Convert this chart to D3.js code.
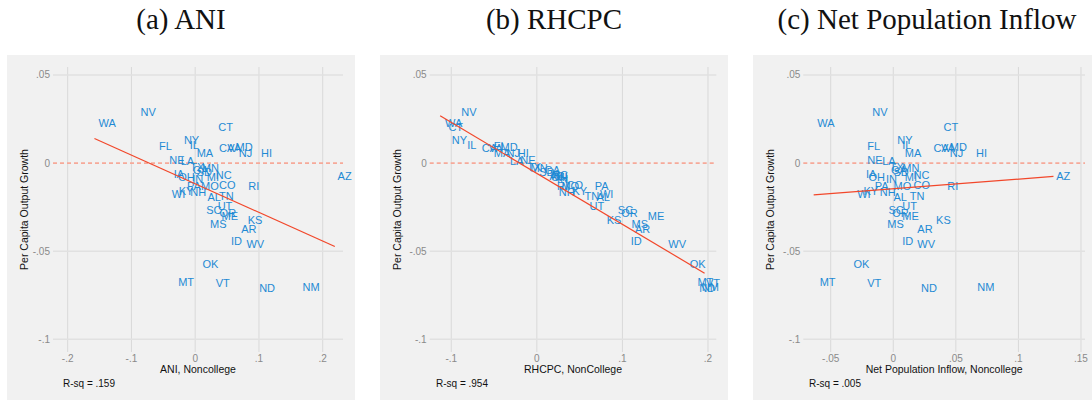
<!DOCTYPE html>
<html>
<head>
<meta charset="utf-8">
<script src="https://cdn.jsdelivr.net/npm/d3@7"></script>
<style>
  body { margin: 0; background: #fff; }
  text { font-family: "Liberation Sans", Arial, sans-serif; }
  .title { font-family: "Liberation Serif", "Times New Roman", serif; }
</style>
</head>
<body>
<div id="chart"></div>
<script>
// state codes and per capita output growth (same y in every panel)
var states = ["WA","NV","CT","NY","IL","FL","CA","VA","MD","NJ","HI","MA","NE","LA","TX","MN","GA","SD",
  "IA","OH","IN","MI","NC","AZ","CO","RI","PA","MO","WI","KY","NH","AL","TN","UT","SC","OR","ME","MS",
  "KS","AR","ID","WV","OK","MT","VT","ND","NM"];
var growth = [0.0228,0.0289,0.0207,0.0133,0.0103,0.0095,0.0087,0.0087,0.0091,0.0059,0.0059,0.0057,0.0015,0.0009,
  -0.0025,-0.0030,-0.0040,-0.0050,-0.0065,-0.0078,-0.0089,-0.0080,-0.0070,-0.0076,-0.0125,-0.0133,-0.0130,-0.0133,
  -0.0175,-0.0160,-0.0162,-0.0194,-0.0185,-0.0243,-0.0265,-0.0285,-0.0302,-0.0345,-0.0326,-0.0374,-0.0443,-0.0460,
  -0.0575,-0.0677,-0.0680,-0.0707,-0.0702];

// x variables
var ani = [-0.158,-0.092,0.030,-0.024,-0.015,-0.063,0.031,0.044,0.057,0.062,0.097,-0.004,-0.047,-0.029,
  -0.014,0.004,-0.010,-0.004,-0.040,-0.033,-0.011,0.012,0.026,0.217,0.031,0.077,-0.019,0.003,
  -0.043,-0.032,-0.014,0.013,0.031,0.029,0.011,0.032,0.035,0.017,0.076,0.066,0.050,0.074,
  0.005,-0.033,0.026,0.094,0.162];
var rhcpc = [-0.112,-0.093,-0.108,-0.104,-0.086,-0.055,-0.069,-0.061,-0.047,-0.040,-0.027,-0.055,-0.024,-0.036,
  -0.016,-0.012,0.004,-0.002,0.011,0.012,0.019,0.017,0.013,0.010,0.030,0.019,0.063,0.024,
  0.069,0.037,0.021,0.065,0.051,0.057,0.090,0.094,0.125,0.106,0.077,0.110,0.105,0.149,
  0.174,0.183,0.193,0.185,0.188];
var inflow = [-0.064,-0.020,0.037,0.000,0.004,-0.024,0.029,0.035,0.042,0.042,0.063,0.006,-0.024,-0.012,
  -0.006,0.004,-0.005,-0.003,-0.025,-0.023,-0.009,0.006,0.013,0.127,0.013,0.040,-0.018,-0.003,
  -0.032,-0.027,-0.014,-0.003,0.010,0.004,-0.007,-0.004,0.004,-0.008,0.031,0.016,0.004,0.016,
  -0.035,-0.062,-0.024,0.019,0.064];

// fitted lines (end points)
var fitAni = [[-0.158, 0.0139], [0.219, -0.0473]];
var fitRhcpc = [[-0.113, 0.0268], [0.196, -0.0625]];
var fitInflow = [[-0.0636, -0.0180], [0.128, -0.0076]];

var titles = ["(a) ANI", "(b) RHCPC", "(c) Net Population Inflow"];
var xTitles = ["ANI, Noncollege", "RHCPC, NonCollege", "Net Population Inflow, Noncollege"];
var rsq = [".159", ".954", ".005"];
var yTicks = [0.05, 0, -0.05, -0.1];
var yTickLabels = [".05", "0", "-.05", "-.1"];
var xTicksA = [-0.2, -0.1, 0, 0.1, 0.2], xTickLabelsA = ["-.2", "-.1", "0", ".1", ".2"];
var xTicksB = [-0.1, 0, 0.1, 0.2], xTickLabelsB = ["-.1", "0", ".1", ".2"];
var xTicksC = [-0.05, 0, 0.05, 0.1, 0.15], xTickLabelsC = ["-.05", "0", ".05", ".1", ".15"];

(function () {
    var width = 1092, height = 400;

    var svg = d3.select("#chart").append("svg")
        .attr("width", width)
        .attr("height", height);

    var panels = [
      {bg: 7,   left: 53,    right: 343,  dom: [-0.223, 0.2318],  xs: ani,    fit: fitAni,    ticks: xTicksA, tl: xTickLabelsA},
      {bg: 380, left: 429.7, right: 716.3, dom: [-0.1252, 0.2097], xs: rhcpc,  fit: fitRhcpc,  ticks: xTicksB, tl: xTickLabelsB},
      {bg: 753, left: 803.3, right: 1085, dom: [-0.0719, 0.1532],  xs: inflow, fit: fitInflow, ticks: xTicksC, tl: xTickLabelsC}
    ];

    var plotTop = 67, plotBottom = 352;
    var y = d3.scaleLinear().domain([-0.1072, 0.0545]).range([plotBottom, plotTop]);

    panels.forEach(function (p, i) {
        var g = svg.append("g");
        var x = d3.scaleLinear().domain(p.dom).range([p.left, p.right]);

        g.append("rect")
            .attr("x", p.bg).attr("y", 55)
            .attr("width", 348).attr("height", 350)
            .attr("fill", "#f1f1f1");

        g.append("text")
            .attr("class", "title")
            .attr("x", p.bg + 174).attr("y", 29)
            .attr("text-anchor", "middle")
            .attr("font-size", 29)
            .attr("fill", "#111")
            .text(titles[i]);

        // vertical grid
        g.selectAll(".vg").data(p.ticks).enter().append("line")
            .attr("x1", function (d) { return x(d); })
            .attr("x2", function (d) { return x(d); })
            .attr("y1", plotTop).attr("y2", plotBottom)
            .attr("stroke", "#d9d9d9").attr("stroke-width", 1);

        // horizontal grid (zero line drawn dashed below)
        g.selectAll(".hg").data(yTicks.filter(function (d) { return d !== 0; })).enter().append("line")
            .attr("x1", p.left).attr("x2", p.right)
            .attr("y1", function (d) { return y(d); })
            .attr("y2", function (d) { return y(d); })
            .attr("stroke", "#e1e1e1").attr("stroke-width", 1.6);

        g.append("line")
            .attr("x1", p.left).attr("x2", p.right)
            .attr("y1", y(0)).attr("y2", y(0))
            .attr("stroke", "#f6a999").attr("stroke-width", 1.8)
            .attr("stroke-dasharray", "4,3");

        // y tick labels
        g.selectAll(".yt").data(yTicks).enter().append("text")
            .attr("x", p.left - 3)
            .attr("y", function (d) { return y(d); })
            .attr("dy", "0.35em")
            .attr("text-anchor", "end")
            .attr("font-size", 10)
            .attr("fill", "#8a8a8a")
            .text(function (d, k) { return yTickLabels[k]; });

        // x tick labels
        g.selectAll(".xt").data(p.ticks).enter().append("text")
            .attr("x", function (d) { return x(d); })
            .attr("y", 362)
            .attr("text-anchor", "middle")
            .attr("font-size", 10)
            .attr("fill", "#8a8a8a")
            .text(function (d, k) { return p.tl[k]; });

        g.append("text")
            .attr("x", (p.left + p.right) / 2).attr("y", 373)
            .attr("text-anchor", "middle")
            .attr("font-size", 10.5)
            .attr("fill", "#111")
            .text(xTitles[i]);

        g.append("text")
            .attr("transform", "translate(" + (p.bg + 21) + "," + ((plotTop + plotBottom) / 2) + ") rotate(-90)")
            .attr("text-anchor", "middle")
            .attr("font-size", 10.5)
            .attr("fill", "#111")
            .text("Per Capita Output Growth");

        g.append("text")
            .attr("x", p.bg + 56).attr("y", 387)
            .attr("font-size", 10)
            .attr("fill", "#111")
            .text("R-sq = " + rsq[i]);

        // state labels
        g.selectAll(".st").data(states).enter().append("text")
            .attr("x", function (d, k) { return x(p.xs[k]) + 4; })
            .attr("y", function (d, k) { return y(growth[k]); })
            .attr("dy", "0.36em")
            .attr("font-size", 11)
            .attr("fill", "#1f8ad4")
            .text(function (d) { return d; });

        // fitted line
        g.append("line")
            .attr("x1", x(p.fit[0][0])).attr("y1", y(p.fit[0][1]))
            .attr("x2", x(p.fit[1][0])).attr("y2", y(p.fit[1][1]))
            .attr("stroke", "#f2472a").attr("stroke-width", 1.2);
    });
})();
</script>
</body>
</html>
